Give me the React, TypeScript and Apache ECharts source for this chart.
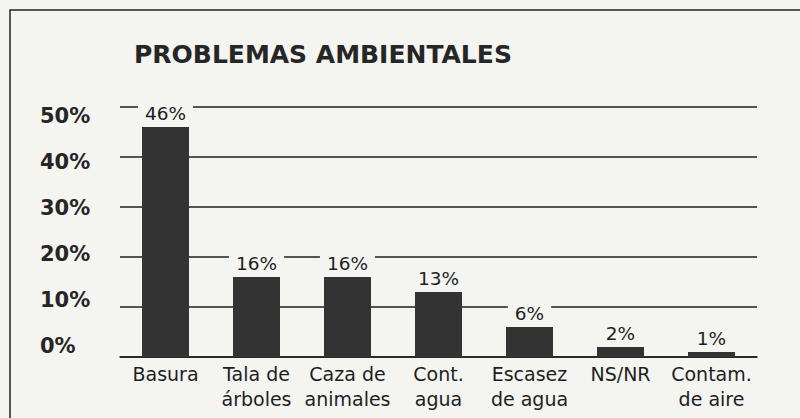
import React, { useEffect, useRef } from "react";
import * as echarts from "echarts";

const categories = [
  "Basura",
  "Tala de\nárboles",
  "Caza de\nanimales",
  "Cont.\nagua",
  "Escasez\nde agua",
  "NS/NR",
  "Contam.\nde aire",
];
const values = [46, 16, 16, 13, 6, 2, 1];
const yMin = 0;
const yMax = 50;
const yStep = 10;

export default function App() {
  const ref = useRef<HTMLDivElement>(null);
  useEffect(() => {
    if (!ref.current) return;
    const chart = echarts.init(ref.current, null, { renderer: "svg" });
    const bg = "#f4f4f1";
    const ink = "#1e1e1e";
    const font = "DejaVu Sans";
    chart.setOption({
      animation: false,
      backgroundColor: bg,
      title: {
        text: "PROBLEMAS AMBIENTALES",
        left: 129,
        top: 37,
        textStyle: { fontFamily: font, fontWeight: "bold", fontSize: 25, color: "#262626" },
      },
      graphic: [
        {
          type: "rect",
          shape: { x: 10, y: 10, width: 800, height: 420 },
          style: { fill: "none", stroke: "#222", lineWidth: 1.5 },
          silent: true,
        },
      ],
      grid: [
        { left: 120, right: 43, top: 107, bottom: 61 },
        { left: 120, right: 43, top: 116, bottom: 72 },
      ],
      xAxis: [
        {
          type: "category",
          gridIndex: 0,
          data: categories,
          axisTick: { show: false },
          axisLine: { show: true, lineStyle: { color: ink, width: 1.5 } },
          axisLabel: {
            interval: 0,
            margin: 4,
            fontFamily: font,
            fontSize: 19,
            lineHeight: 25,
            color: ink,
          },
        },
        { type: "category", gridIndex: 1, data: categories, show: false },
      ],
      yAxis: [
        {
          type: "value",
          gridIndex: 0,
          min: yMin,
          max: yMax,
          interval: yStep,
          axisLabel: { show: false },
          axisLine: { show: false },
          axisTick: { show: false },
          splitLine: { show: true, lineStyle: { color: ink, width: 1.5 } },
        },
        {
          type: "value",
          gridIndex: 1,
          min: yMin,
          max: yMax,
          interval: yStep,
          axisLine: { show: false },
          axisTick: { show: false },
          splitLine: { show: false },
          axisLabel: {
            align: "left",
            margin: 80,
            formatter: "{value}%",
            fontFamily: font,
            fontWeight: "bold",
            fontSize: 21,
            color: "#262626",
          },
        },
      ],
      series: [
        {
          type: "bar",
          xAxisIndex: 0,
          yAxisIndex: 0,
          data: values,
          barWidth: 47,
          itemStyle: { color: "#333333" },
          label: {
            show: true,
            position: "top",
            distance: 4,
            formatter: "{c}%",
            fontFamily: font,
            fontSize: 18.5,
            color: ink,
            backgroundColor: bg,
            padding: [1, 7, 0, 7],
          },
        },
      ],
    });
    return () => chart.dispose();
  }, []);
  return <div ref={ref} style={{ width: 800, height: 418, position: "fixed", left: 0, top: 0 }} />;
}
